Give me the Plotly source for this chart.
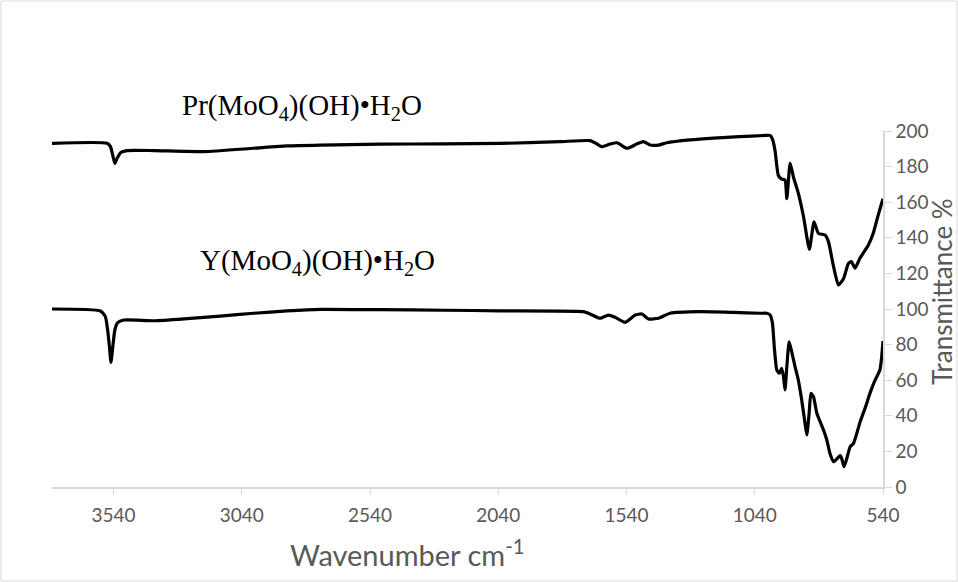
import plotly.graph_objects as go

# FTIR spectra (wavenumber in cm^-1, transmittance in %, Pr spectrum offset upward)
pr_wn = [3780, 3565, 3552, 3542, 3535, 3526, 3513, 3487, 3383, 3188,
         2994, 2864, 2734, 2500, 2250, 2033, 1800, 1682, 1655, 1636,
         1604, 1577, 1538, 1500, 1474, 1448, 1415, 1383, 1292, 1200,
         1100, 1000, 980, 970, 961, 948, 935, 922, 915, 902,
         889, 870, 850, 827, 809, 792, 766, 753, 733, 714,
         694, 675, 664, 649, 630, 597, 577, 564, 551, 540]
pr_t = [193.1, 193.1, 191.2, 185.6, 181.8, 184.7, 187.8, 189, 189, 188.4,
        190.3, 191.6, 192.1, 192.6, 192.8, 193, 194, 194.6, 192.7, 191.2,
        192.7, 193.4, 190.3, 192.7, 194, 192.1, 192.1, 193.4, 195, 196,
        196.8, 197.5, 197.5, 195, 189, 175, 173, 172.5, 162, 182,
        174, 165, 152, 133.5, 149, 142.5, 141.6, 138, 124, 113.5,
        117, 125.6, 126.6, 123, 128.5, 136, 143, 150, 156.6, 162]

y_wn = [3780, 3591, 3572, 3563, 3556, 3550, 3543, 3535, 3524, 3500,
        3383, 3253, 3124, 2994, 2864, 2734, 2500, 2250, 2033, 1708,
        1682, 1643, 1610, 1584, 1545, 1506, 1480, 1454, 1415, 1370,
        1253, 1123, 1019, 993, 980, 971, 963, 954, 944, 935,
        928, 922, 915, 906, 896, 883, 870, 857, 844, 837,
        828, 821, 811, 798, 785, 772, 759, 747, 733, 718,
        707, 701, 692, 681, 668, 655, 642, 629, 610, 591,
        571, 552, 546, 540]
y_t = [100, 98.9, 95.7, 88.2, 78.8, 70, 78.8, 88.2, 92.3, 93.8,
       93.4, 94.6, 96, 97.6, 98.9, 99.8, 99.6, 99.3, 99, 98.5,
       97.2, 94.8, 96.6, 95.3, 92.5, 96.6, 97.2, 94.4, 94.8, 97.6,
       98.5, 98.1, 97.6, 97.6, 96.6, 92, 77, 65.7, 63.9, 66.7,
       62, 54.5, 67.6, 81.6, 76, 67.6, 60, 48.9, 35.8, 29.2,
       41.4, 52.6, 50.7, 41.4, 36.7, 32, 26.4, 18.9, 14.2, 16.1,
       17.6, 16.1, 11.4, 16.1, 22.6, 24.5, 30.2, 36.7, 44.2, 52.6,
       60, 65.7, 72, 82]

x_ticks = [3540, 3040, 2540, 2040, 1540, 1040, 540]
y_ticks = [0, 20, 40, 60, 80, 100, 120, 140, 160, 180, 200]

pr_label = "Pr(MoO<sub>4</sub>)(OH)•H<sub>2</sub>O"
y_label = "Y(MoO<sub>4</sub>)(OH)•H<sub>2</sub>O"

W, H = 958, 582
ML, MR, MT, MB = 52, 75, 131, 95
PW, PH = W - ML - MR, H - MT - MB


def px(x):
    return (x - ML) / PW


def py(y):
    return (H - MB - y) / PH


fig = go.Figure()
for wn, t in ((pr_wn, pr_t), (y_wn, y_t)):
    fig.add_trace(go.Scatter(
        x=wn, y=t, mode="lines",
        line=dict(color="black", width=3.2, shape="spline", smoothing=0.5),
        showlegend=False, hoverinfo="skip"))

axis_grey = "#d9d9d9"
text_grey = "#595959"

fig.update_layout(
    width=W, height=H,
    margin=dict(l=ML, r=MR, t=MT, b=MB),
    paper_bgcolor="white", plot_bgcolor="white",
    font=dict(family="Lato", color=text_grey, size=18),
    xaxis=dict(range=[3780, 540], tickvals=x_ticks,
               ticktext=[str(v) for v in x_ticks],
               showgrid=False, zeroline=False, showline=True,
               linecolor=axis_grey, linewidth=1.5,
               ticks="outside", ticklen=6, tickcolor=axis_grey,
               ticklabelstandoff=4,
               tickfont=dict(size=19, color=text_grey)),
    yaxis=dict(range=[0, 200], tickvals=y_ticks, side="right",
               showgrid=False, zeroline=False, showline=True,
               linecolor=axis_grey, linewidth=1.5,
               ticks="outside", ticklen=7, tickcolor=axis_grey,
               tickfont=dict(size=19, color=text_grey)),
)

fig.add_annotation(text=pr_label, xref="paper", yref="paper",
                   x=px(180), y=py(107), xanchor="left", yanchor="middle",
                   showarrow=False,
                   font=dict(family="Liberation Serif", size=29, color="black"))
fig.add_annotation(text=y_label, xref="paper", yref="paper",
                   x=px(198), y=py(262), xanchor="left", yanchor="middle",
                   showarrow=False,
                   font=dict(family="Liberation Serif", size=29, color="black"))
fig.add_annotation(text="Wavenumber cm<sup>-1</sup>", xref="paper", yref="paper",
                   x=px(407), y=py(553), xanchor="center", yanchor="middle",
                   showarrow=False, font=dict(size=29, color=text_grey))
fig.add_annotation(text="Transmittance %", xref="paper", yref="paper",
                   x=px(942), y=py(292), xanchor="center", yanchor="middle",
                   textangle=-90, showarrow=False,
                   font=dict(size=26, color=text_grey))

# chart area border
fig.add_shape(type="rect", xref="paper", yref="paper",
              x0=px(1), x1=px(957), y0=py(581), y1=py(1),
              line=dict(color=axis_grey, width=1), layer="below")

fig.write_html("out.html")
